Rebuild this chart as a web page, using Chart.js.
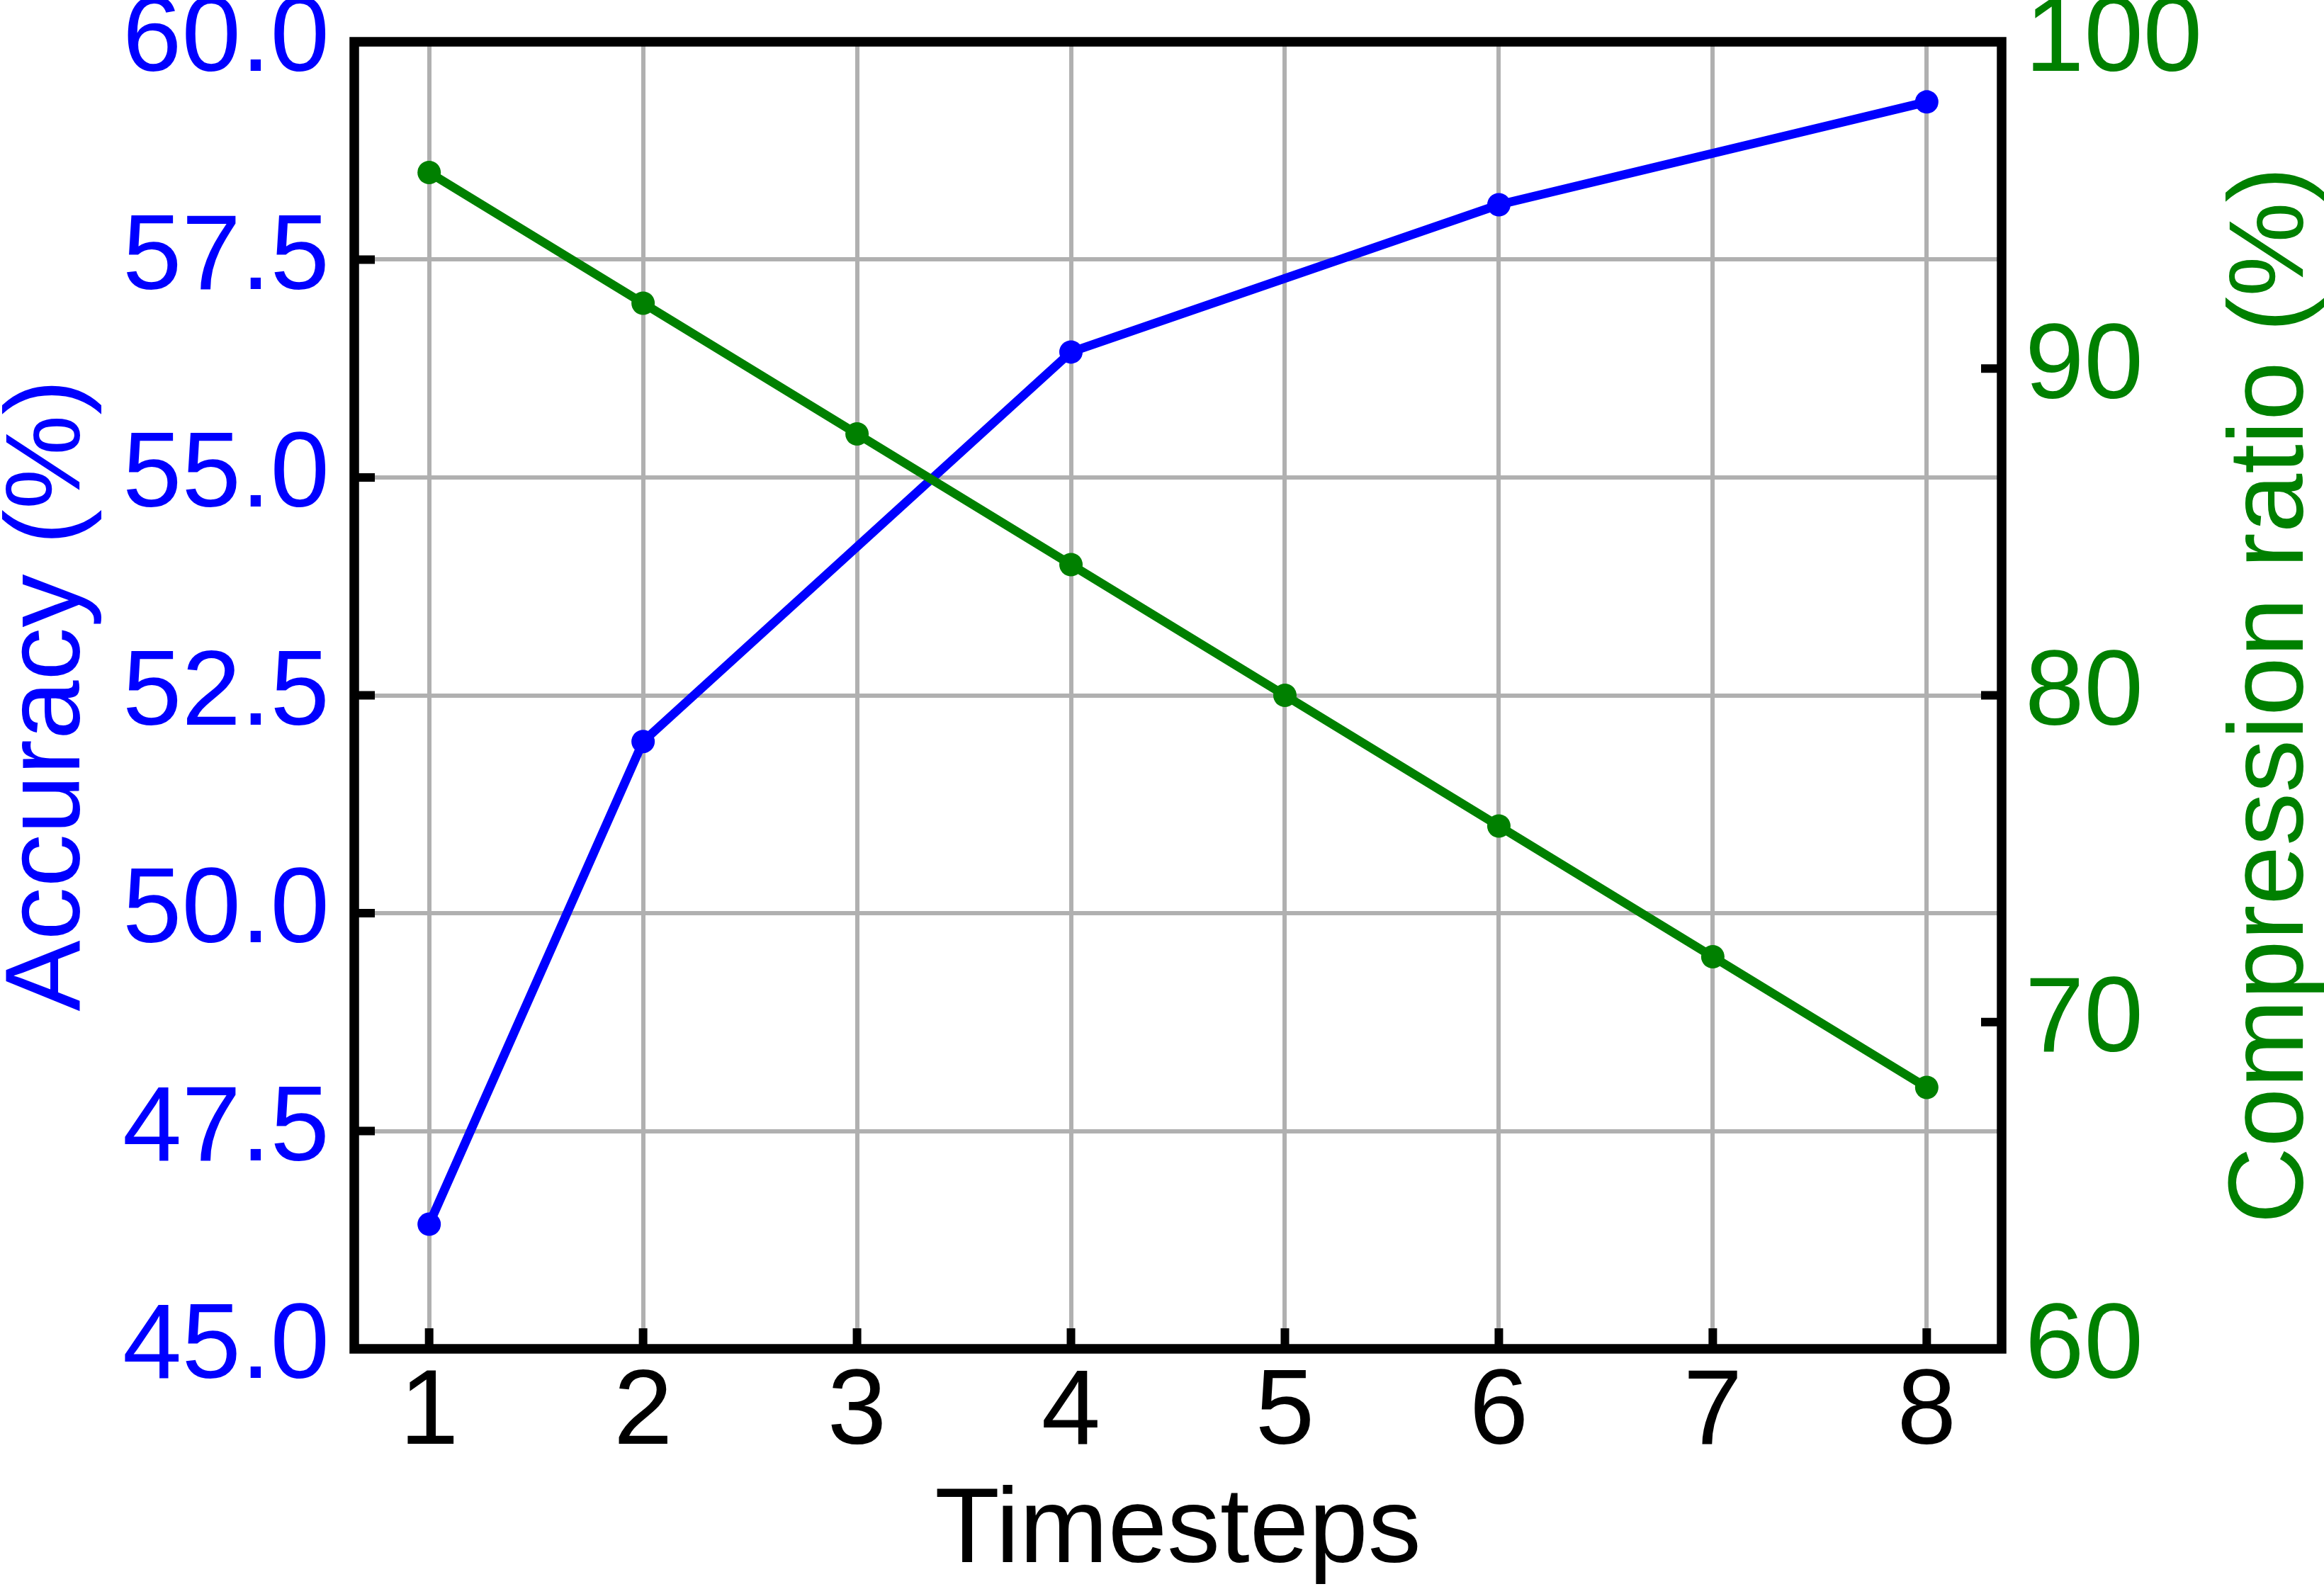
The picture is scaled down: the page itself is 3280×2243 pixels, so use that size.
<!DOCTYPE html>
<html>
<head>
<meta charset="utf-8">
<script src="https://cdn.jsdelivr.net/npm/chart.js@4.4.0/dist/chart.umd.min.js"></script>
<style>
  html, body { margin: 0; padding: 0; background: #ffffff; }
  canvas { display: block; }
</style>
</head>
<body>
<canvas id="myChart" width="3280" height="2243"></canvas>
<script>
// data
const timesteps = [1, 2, 3, 4, 5, 6, 7, 8];
const accuracy = [46.43, 51.97, null, 56.44, null, 58.13, null, 59.31];
const compression = [96, 92, 88, 84, 80, 76, 72, 68];
const accuracyTicks = [45, 47.5, 50, 52.5, 55, 57.5, 60];
const compressionTicks = [60, 70, 80, 90, 100];

const FONT = "'Liberation Sans', Arial, sans-serif";
const BLUE = "#0000ff";
const GREEN = "#008000";
const GRID = "#b0b0b0";

function toPoints(values) {
  return timesteps
    .map((t, i) => ({ x: t, y: values[i] }))
    .filter((p) => p.y !== null);
}

// fixed axis box sizes, no extra label padding
function fixSize(prop, size) {
  return (scale) => {
    scale[prop] = size;
    scale.paddingTop = 0;
    scale.paddingBottom = 0;
    scale.paddingLeft = 0;
    scale.paddingRight = 0;
  };
}

// frame, inward ticks and the right-hand title (reads bottom to top)
const framePlugin = {
  id: "frame",
  afterDraw(chart) {
    const { ctx, chartArea: a, scales } = chart;
    const len = 29;
    ctx.save();
    ctx.strokeStyle = "#000000";
    ctx.lineCap = "butt";
    ctx.lineWidth = 12;
    ctx.beginPath();
    scales.x.ticks.forEach((t) => {
      const px = scales.x.getPixelForValue(t.value);
      ctx.moveTo(px, a.bottom);
      ctx.lineTo(px, a.bottom - len);
    });
    scales.y.ticks.forEach((t) => {
      const py = scales.y.getPixelForValue(t.value);
      ctx.moveTo(a.left, py);
      ctx.lineTo(a.left + len, py);
    });
    scales.y1.ticks.forEach((t) => {
      const py = scales.y1.getPixelForValue(t.value);
      ctx.moveTo(a.right, py);
      ctx.lineTo(a.right - len, py);
    });
    ctx.stroke();

    ctx.lineWidth = 13.5;
    ctx.lineJoin = "miter";
    ctx.strokeRect(a.left, a.top, a.right - a.left, a.bottom - a.top);

    ctx.fillStyle = GREEN;
    ctx.font = "150px " + FONT;
    ctx.textAlign = "center";
    ctx.textBaseline = "alphabetic";
    ctx.translate(a.right + 425, (a.top + a.bottom) / 2);
    ctx.rotate(-Math.PI / 2);
    ctx.fillText("Compression ratio (%)", 0, 0);
    ctx.restore();
  },
};

function initChart() {
  const ctx = document.getElementById("myChart");

  new Chart(ctx, {
    type: "line",
    data: {
      datasets: [
        {
          label: "Compression ratio",
          data: toPoints(compression),
          yAxisID: "y1",
          borderColor: GREEN,
          backgroundColor: GREEN,
          borderWidth: 12.5,
          pointRadius: 16.5,
          pointBorderWidth: 0,
          pointBackgroundColor: GREEN,
          tension: 0,
          order: 0,
        },
        {
          label: "Accuracy",
          data: toPoints(accuracy),
          yAxisID: "y",
          borderColor: BLUE,
          backgroundColor: BLUE,
          borderWidth: 12.5,
          pointRadius: 16.5,
          pointBorderWidth: 0,
          pointBackgroundColor: BLUE,
          tension: 0,
          order: 1,
        },
      ],
    },
    options: {
      responsive: false,
      animation: false,
      devicePixelRatio: 1,
      layout: {
        padding: { top: 59, left: 0, right: 0, bottom: 0 },
      },
      plugins: {
        legend: { display: false },
        tooltip: { enabled: false },
      },
      scales: {
        x: {
          type: "linear",
          min: 0.65,
          max: 8.35,
          afterBuildTicks: (scale) => {
            scale.ticks = timesteps.map((v) => ({ value: v }));
          },
          afterFit: fixSize("height", 339),
          ticks: {
            color: "#000000",
            padding: 36,
            font: { family: FONT, size: 150, lineHeight: 0.75 },
            callback: (v) => String(v),
          },
          grid: {
            color: GRID,
            lineWidth: 6,
            drawTicks: false,
          },
          border: { display: false },
          title: {
            display: true,
            text: "Timesteps",
            color: "#000000",
            font: { family: FONT, size: 150, lineHeight: 1 },
            padding: { top: 0, bottom: 4 },
          },
        },
        y: {
          type: "linear",
          position: "left",
          min: 45,
          max: 60,
          afterBuildTicks: (scale) => {
            scale.ticks = accuracyTicks.map((v) => ({ value: v }));
          },
          afterFit: fixSize("width", 500),
          ticks: {
            color: BLUE,
            padding: 35,
            font: { family: FONT, size: 150, lineHeight: 0.75 },
            callback: (v) => Number(v).toFixed(1),
          },
          grid: {
            color: GRID,
            lineWidth: 6,
            drawTicks: false,
          },
          border: { display: false },
          title: {
            display: true,
            text: "Accuracy (%)",
            color: BLUE,
            font: { family: FONT, size: 150, lineHeight: 0.8 },
            padding: { top: 11, bottom: 0 },
          },
        },
        y1: {
          type: "linear",
          position: "right",
          min: 60,
          max: 100,
          afterBuildTicks: (scale) => {
            scale.ticks = compressionTicks.map((v) => ({ value: v }));
          },
          afterFit: fixSize("width", 455),
          ticks: {
            color: GREEN,
            padding: 33,
            font: { family: FONT, size: 150, lineHeight: 0.75 },
            callback: (v) => String(v),
          },
          grid: {
            display: false,
            drawTicks: false,
          },
          border: { display: false },
        },
      },
    },
    plugins: [framePlugin],
  });
}

initChart();
</script>
</body>
</html>
